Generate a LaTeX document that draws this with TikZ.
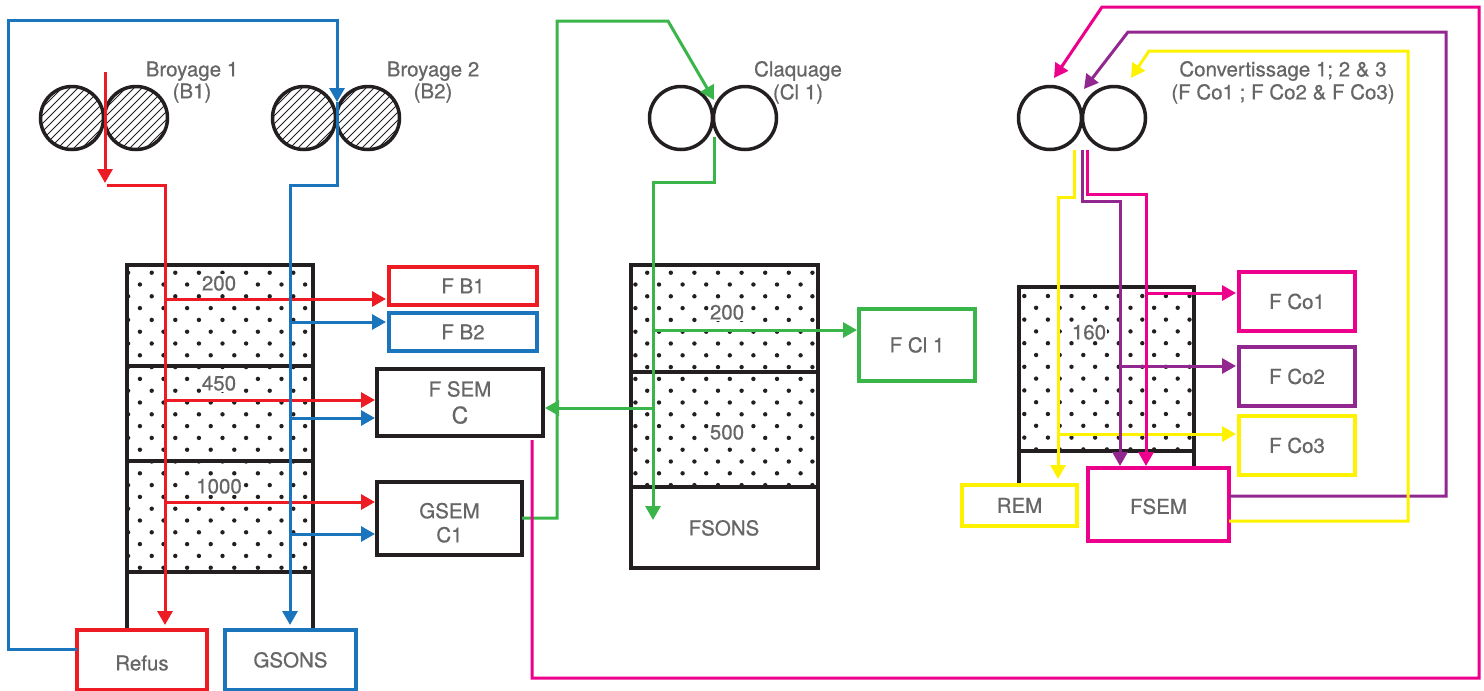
\documentclass[tikz,border=0pt]{standalone}
\usepackage{fontspec}
\setmainfont{TeX Gyre Heros}
\newfontfamily\medfont{TeX Gyre Heros}[FakeBold=0.6]
\usetikzlibrary{arrows.meta}
\definecolor{cred}{HTML}{ED1C24}
\definecolor{cblue}{HTML}{1B75BC}
\definecolor{cgreen}{HTML}{39B54A}
\definecolor{cmag}{HTML}{EC008C}
\definecolor{cpur}{HTML}{92278F}
\definecolor{cyel}{HTML}{FFF200}
\definecolor{cblk}{HTML}{231F20}
\definecolor{tgray}{HTML}{666666}
\newcommand\myfont{\medfont\fontsize{20.5}{24}\selectfont}
\newcommand\dotgrid[6]{%
  \begin{scope}
    \clip (#1,#2) rectangle (#3,#4);
    \foreach \r in {0,...,30}{%
      \pgfmathsetmacro\yy{#6+11.8*\r}%
      \pgfmathsetmacro\off{mod(\r,2)*11.8}%
      \foreach \c in {0,...,9}{\fill[cblk] (#5+\off+23.6*\c,\yy) circle (2.2);}}
  \end{scope}}
\tikzset{
  lbl/.style={font=\myfont, text=tgray, inner sep=0pt, text height=14.8pt, text depth=0pt},
  numlbl/.style={lbl, fill=white, inner xsep=1pt, inner ysep=2pt},
  box/.style={draw, line width=3.5pt, fill=white, inner sep=0pt, outer sep=0pt, font=\myfont, text=tgray},
  onebox/.style={box, text height=14.8pt, text depth=0pt},
  tw/.style={draw=cblk, line width=3.5pt},
  roll/.style={circle, draw=cblk, line width=3.5pt, minimum size=63pt, inner sep=0pt, outer sep=0pt},
  hatched/.style={path picture={\foreach \k in {-96,-88,...,96}
      \draw[cblk, line width=0.8pt] ([xshift=\k pt]path picture bounding box.center) ++(-45,45) -- ++(90,-90);}},
  arr/.style={-{Triangle[length=14pt,width=15pt]}},
  cl/.style={line width=3pt, line join=miter},
}
\begin{document}
\begin{tikzpicture}[x=1pt,y=-1pt]
\useasboundingbox (0,0) rectangle (1484,691);
% ---------- towers: dots ----------
\dotgrid{127}{265}{313}{572}{104.5}{249.1}
\dotgrid{631}{265}{818}{487}{600}{249.1}
\dotgrid{1019}{287}{1194}{451}{1000.7}{248.8}
% ---------- towers: frames ----------
\draw[tw] (127,630) -- (127,265) -- (313,265) -- (313,630);
\draw[tw] (127,366) -- (313,366);
\draw[tw] (127,461) -- (313,461);
\draw[tw] (127,572) -- (313,572);
\draw[tw] (631,265) rectangle (818,568);
\draw[tw] (631,372) -- (818,372);
\draw[tw] (631,487) -- (818,487);
\draw[tw] (1019,485) -- (1019,287) -- (1194,287) -- (1194,468);
\draw[tw] (1019,451) -- (1194,451);
% ---------- tower labels ----------
\node[numlbl] (t200a) at (219,283) {200};
\node[numlbl] (t450) at (219,383) {450};
\node[numlbl] (t1000) at (219,486) {1000};
\node[numlbl] (t200b) at (727,312) {200};
\node[numlbl] (t500) at (727,432) {500};
\node[numlbl] (t160) at (1089,332) {160};
\node[lbl] (fsons) at (724,528) {FSONS};
% ---------- rolls ----------
\node[roll, hatched] (b1l) at (72,118) {};
\node[roll, hatched] (b1r) at (136,118) {};
\node[roll, hatched] (b2l) at (304,118) {};
\node[roll, hatched] (b2r) at (368,118) {};
\node[roll] (cll) at (681,118) {};
\node[roll] (clr) at (745,118) {};
\node[roll] (col) at (1050,118) {};
\node[roll] (cor) at (1114,118) {};
% ---------- roll labels ----------
\node[lbl] (lb1) at (192,69) {Broyage 1};
\node[lbl] (lb1b) at (192,91) {(B1)};
\node[lbl] (lb2) at (433,69) {Broyage 2};
\node[lbl] (lb2b) at (433,91) {(B2)};
\node[lbl] (lcl) at (798,69) {Claquage};
\node[lbl] (lclb) at (798,92) {(Cl 1)};
\node[lbl] (lco) at (1283,69) {Convertissage 1; 2 \& 3};
\node[lbl] (lcob) at (1283,92) {(F Co1 ; F Co2 \& F Co3)};
% ---------- boxes ----------
\node[onebox, draw=cred, minimum width=148pt, minimum height=38pt] (fb1) at (463,286) {F B1};
\node[onebox, draw=cblue, minimum width=148pt, minimum height=38pt] (fb2) at (463,332) {F B2};
\node[box, draw=cblk, align=center, minimum width=166pt, minimum height=67pt] (fsemc) at (460,402.5) {F SEM\\[3pt]{\fontsize{23}{25}\selectfont C}};
\node[box, draw=cblk, align=center, minimum width=145pt, minimum height=73pt] (gsem) at (449.5,518.5) {\rule{0pt}{23.8pt}GSEM\\C1};
\node[onebox, draw=cred, minimum width=130pt, minimum height=60pt] (refus) at (142,660) {\raisebox{-3pt}{Refus}};
\node[onebox, draw=cblue, minimum width=131pt, minimum height=60pt] (gsons) at (290.5,660) {GSONS};
\node[onebox, draw=cgreen, minimum width=116pt, minimum height=72pt] (fcl) at (917,345) {F Cl 1};
\node[onebox, draw=cmag, minimum width=116pt, minimum height=59pt] (fco1) at (1297,301.5) {F Co1};
\node[onebox, draw=cpur, minimum width=116pt, minimum height=59pt] (fco2) at (1297,376.5) {F Co2};
\node[onebox, draw=cyel, minimum width=116pt, minimum height=59pt] (fco3) at (1297,445.5) {F Co3};
\node[onebox, draw=cyel, minimum width=115pt, minimum height=41pt] (rem) at (1019.5,505.5) {REM};
\node[onebox, draw=cmag, minimum width=141pt, minimum height=73pt] (fsem) at (1158.5,504.5) {\raisebox{-2pt}{FSEM}};
% ---------- red flow ----------
\coordinate (rin) at (105,72);
\coordinate (rout) at (105,183);
\draw[cl, cred, arr] (rin) -- (rout);
\coordinate (rc1) at (107,185);
\coordinate (rc2) at (165,185);
\draw[cl, cred, arr, shorten >=5pt] (rc1) -- (rc2) -- (rc2 |- refus.north);
\coordinate (rj1) at (165,299);
\coordinate (rj2) at (165,400);
\coordinate (rj3) at (165,502);
\draw[cl, cred, arr, shorten >=3pt] (rj1) -- (rj1 -| fb1.west);
\draw[cl, cred, arr, shorten >=2pt] (rj2) -- (rj2 -| fsemc.west);
\draw[cl, cred, arr, shorten >=2pt] (rj3) -- (rj3 -| gsem.west);
% ---------- blue flow ----------
\coordinate (bs) at (77,649);
\coordinate (bin) at (337,102);
\draw[cl, cblue, arr] (refus.west |- bs) -- (8,649) -- (8,20) -- (337,20) -- (bin);
\coordinate (bc1) at (337,185);
\coordinate (bc2) at (290,185);
\draw[cl, cblue, arr, shorten >=5pt] (bin) -- (bc1) -- (bc2) -- (bc2 |- gsons.north);
\coordinate (bj1) at (290,322);
\coordinate (bj2) at (290,418);
\coordinate (bj3) at (290,534);
\draw[cl, cblue, arr, shorten >=3pt] (bj1) -- (bj1 -| fb2.west);
\draw[cl, cblue, arr, shorten >=2pt] (bj2) -- (bj2 -| fsemc.west);
\draw[cl, cblue, arr, shorten >=2pt] (bj3) -- (bj3 -| gsem.west);
% ---------- green flow ----------
\coordinate (gs) at (522,518);
\coordinate (gin) at (714,100);
\draw[cl, cgreen, arr] (gsem.east |- gs) -- (557,518) -- (557,21) -- (668,21) -- (gin);
\coordinate (gout) at (714,137);
\coordinate (gc1) at (714,182);
\coordinate (gc2) at (653,182);
\coordinate (gend) at (653,520);
\draw[cl, cgreen, arr] (gout) -- (gc1) -- (gc2) -- (gend);
\coordinate (gj1) at (653,330);
\coordinate (gj2) at (653,408);
\draw[cl, cgreen, arr, shorten >=2pt] (gj1) -- (gj1 -| fcl.west);
\draw[cl, cgreen, arr, shorten >=2pt] (gj2) -- (gj2 -| fsemc.east);
% ---------- return loops ----------
\coordinate (ms) at (532,440);
\coordinate (min) at (1054,78);
\draw[cl, cmag, arr] (ms) -- (532,678) -- (1479,678) -- (1479,7) -- (1102,7) -- (min);
\coordinate (ps) at (1229,496);
\coordinate (pin) at (1084,89);
\draw[cl, cpur, arr] (fsem.east |- ps) -- (1446,496) -- (1446,32) -- (1128,32) -- (pin);
\coordinate (ys) at (1229,521);
\coordinate (yin) at (1131,78);
\draw[cl, cyel, arr] (fsem.east |- ys) -- (1408,521) -- (1408,51) -- (1149,51) -- (yin);
% ---------- convertissage outputs ----------
\coordinate (yo) at (1074,150);
\coordinate (yc1) at (1074,197);
\coordinate (yc2) at (1058,197);
\draw[cl, cyel, arr, shorten >=6pt] (yo) -- (yc1) -- (yc2) -- (yc2 |- rem.north);
\coordinate (yj) at (1058,434);
\draw[cl, cyel, arr, shorten >=3pt] (yj) -- (yj -| fco3.west);
\coordinate (po) at (1082,150);
\coordinate (pc1) at (1082,201);
\coordinate (pc2) at (1120,201);
\draw[cl, cpur, arr, shorten >=2pt] (po) -- (pc1) -- (pc2) -- (pc2 |- fsem.north);
\coordinate (pj) at (1120,366);
\draw[cl, cpur, arr, shorten >=3pt] (pj) -- (pj -| fco2.west);
\coordinate (mo) at (1087,150);
\coordinate (mc1) at (1087,194);
\coordinate (mc2) at (1146,194);
\draw[cl, cmag, arr, shorten >=2pt] (mo) -- (mc1) -- (mc2) -- (mc2 |- fsem.north);
\coordinate (mj) at (1146,293);
\draw[cl, cmag, arr, shorten >=3pt] (mj) -- (mj -| fco1.west);
\end{tikzpicture}
\end{document}
